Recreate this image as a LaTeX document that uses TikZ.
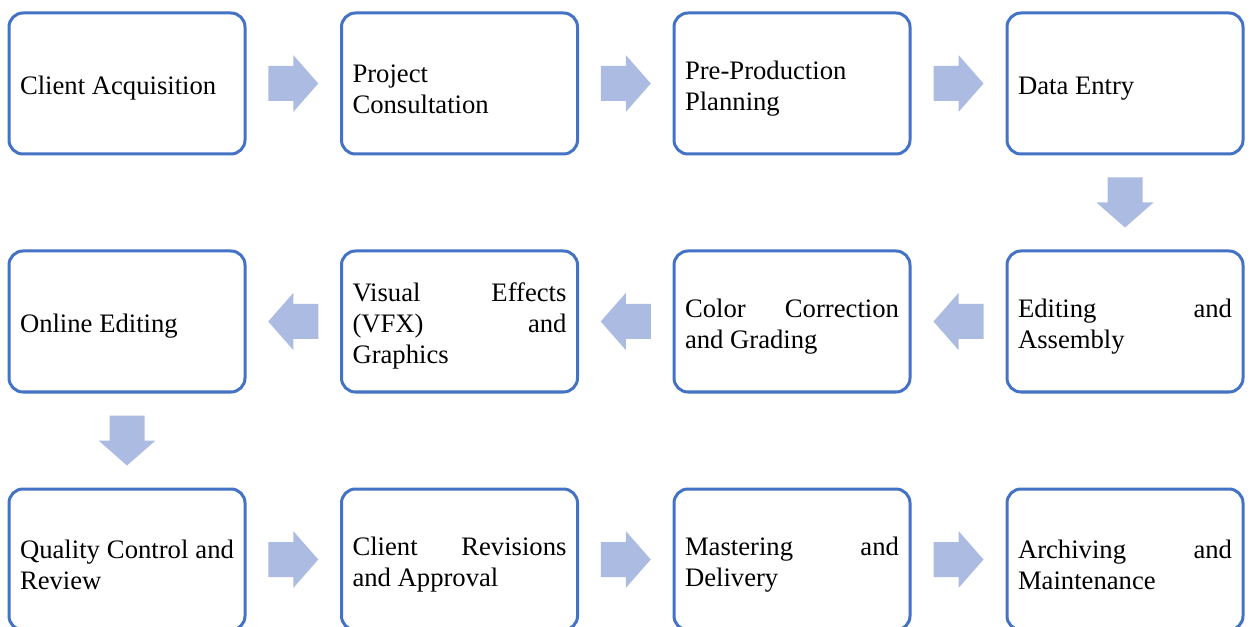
\documentclass[tikz,border=0pt]{standalone}
\usepackage{fontspec}
\setmainfont{Liberation Serif}
\usetikzlibrary{calc}
\usetikzlibrary{positioning}
\hyphenpenalty=10000
\exhyphenpenalty=10000

\definecolor{stepline}{RGB}{68,114,196}
\definecolor{stepfill}{RGB}{171,187,226}

\tikzset{
    stepbox/.style={draw=stepline, line width=2.25pt, rounded corners=10.5pt,
        minimum width=177pt, minimum height=105.75pt, text width=160.5pt,
        inner xsep=8.25pt, align=justify,
        font={\fontsize{20}{23.3}\selectfont\spaceskip=\fontdimen2\font plus 10\fontdimen3\font minus 0pt\relax},
        execute at begin node={\vskip -2pt\relax}},
    flowarrow/.pic={
        \fill[stepfill] (-25,-17.5) -- (0,-17.5) -- (0,-28.5) -- (25,0) -- (0,28.5) -- (0,17.5) -- (-25,17.5) -- cycle;
    }
}

\begin{document}
\begin{tikzpicture}[x=0.75pt,y=0.75pt,yscale=-1,xscale=1]
            \useasboundingbox (0,0) rectangle (1250,627);

            % Row 1
            \node[stepbox] (client) at (127,83.5) {Client Acquisition};
            \node[stepbox] (consult) at (459.5,83.5) {Project Consultation};
            \node[stepbox] (preprod) at (792,83.5) {Pre-Production Planning};
            \node[stepbox] (dataentry) at (1125,83.5) {Data Entry};

            % Row 2
            \node[stepbox] (editing) at (1125,321.5) {Editing and Assembly};
            \node[stepbox] (grading) at (792,321.5) {Color Correction and Grading};
            \node[stepbox] (vfx) at (459.5,321.5) {Visual Effects (VFX) and Graphics};
            \node[stepbox] (online) at (127,321.5) {Online Editing};

            % Row 3
            \node[stepbox] (quality) at (127,559.5) {Quality Control and Review};
            \node[stepbox] (revisions) at (459.5,559.5) {Client Revisions and Approval};
            \node[stepbox] (mastering) at (792,559.5) {Mastering and Delivery};
            \node[stepbox] (archiving) at (1125,559.5) {Archiving and Maintenance};

            % Block arrows
            \pic at ($(client.east)!0.5!(consult.west)$) {flowarrow};
            \pic at ($(consult.east)!0.5!(preprod.west)$) {flowarrow};
            \pic at ($(preprod.east)!0.5!(dataentry.west)$) {flowarrow};
            \pic[rotate=-90] at ($(dataentry.south)!0.5!(editing.north)$) {flowarrow};
            \pic[rotate=180] at ($(editing.west)!0.5!(grading.east)$) {flowarrow};
            \pic[rotate=180] at ($(grading.west)!0.5!(vfx.east)$) {flowarrow};
            \pic[rotate=180] at ($(vfx.west)!0.5!(online.east)$) {flowarrow};
            \pic[rotate=-90] at ($(online.south)!0.5!(quality.north)$) {flowarrow};
            \pic at ($(quality.east)!0.5!(revisions.west)$) {flowarrow};
            \pic at ($(revisions.east)!0.5!(mastering.west)$) {flowarrow};
            \pic at ($(mastering.east)!0.5!(archiving.west)$) {flowarrow};

        \end{tikzpicture}
\end{document}
